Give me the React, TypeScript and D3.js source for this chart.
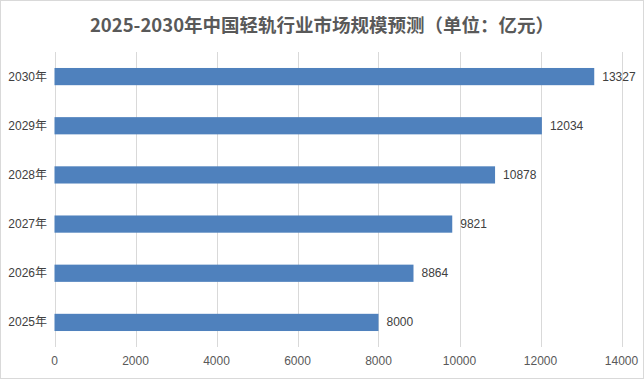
import React from "react";
import * as d3 from "d3";

const categories = ["2025年", "2026年", "2027年", "2028年", "2029年", "2030年"];
const values = [8000, 8864, 9821, 10878, 12034, 13327];
const xTicks = [0, 2000, 4000, 6000, 8000, 10000, 12000, 14000];
const title = "2025-2030年中国轻轨行业市场规模预测（单位：亿元）";

const W = 644;
const H = 379;
const left = 54.5;
const right = 621.5;
const top = 52;
const bottom = 347;
const FONT = "'Liberation Sans', 'Noto Sans CJK SC', sans-serif";

export default function App() {
  const x = d3.scaleLinear().domain([0, 14000]).range([left, right]);
  const y = d3
    .scaleBand<string>()
    .domain([...categories].reverse())
    .range([top, bottom])
    .paddingInner(0.65)
    .paddingOuter(0.325);

  return (
    <svg
      width={W}
      height={H}
      style={{ position: "absolute", left: 0, top: 0, background: "#fff" }}
    >
      <rect x={0.5} y={0.5} width={W - 1} height={H - 1} fill="#fff" stroke="#d9d9d9" />
      <text
        x={W / 2}
        y={32}
        textAnchor="middle"
        fontFamily="'Noto Sans CJK SC', sans-serif"
        fontWeight="bold"
        fontSize={18.5}
        fill="#595959"
      >
        {title}
      </text>
      {xTicks.map((t) => (
        <g key={t}>
          <line
            x1={Math.round(x(t)) + 0.5}
            x2={Math.round(x(t)) + 0.5}
            y1={top}
            y2={bottom}
            stroke="#d9d9d9"
            strokeWidth={1}
          />
          <text
            x={x(t)}
            y={365}
            textAnchor="middle"
            fontFamily={FONT}
            fontSize={12}
            fill="#595959"
          >
            {t}
          </text>
        </g>
      ))}
      {categories.map((c, i) => {
        const yy = y(c)!;
        const bw = y.bandwidth();
        return (
          <g key={c}>
            <rect x={x(0)} y={yy} width={x(values[i]) - x(0)} height={bw} fill="#4f81bd" />
            <text
              x={47}
              y={yy + bw / 2 + 4}
              textAnchor="end"
              fontFamily={FONT}
              fontSize={12}
              fill="#404040"
            >
              {c}
            </text>
            <text
              x={x(values[i]) + 8}
              y={yy + bw / 2 + 4}
              fontFamily={FONT}
              fontSize={12}
              fill="#404040"
            >
              {values[i]}
            </text>
          </g>
        );
      })}
    </svg>
  );
}
